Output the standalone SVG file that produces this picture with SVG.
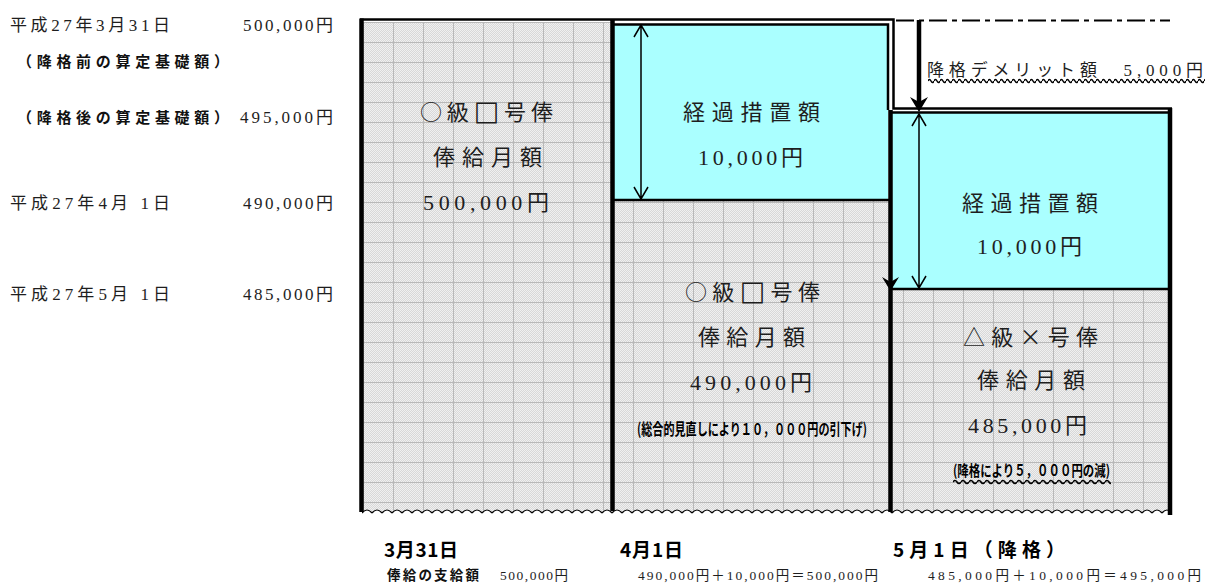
<svg xmlns="http://www.w3.org/2000/svg" width="1205" height="585" viewBox="0 0 1205 585">
<style>
.m{font-family:'Liberation Serif','Noto Sans CJK JP',serif;fill:#1e1e1e}
.g{font-family:'Noto Sans CJK JP',sans-serif;fill:#111}
.b{font-family:'Noto Sans CJK JP',sans-serif;font-weight:700;fill:#000}
.j{font-family:'Noto Sans CJK JP',sans-serif;fill:#1e1e1e}
.sq{font-family:'DejaVu Sans',sans-serif;font-size:27px;fill:#1e1e1e}
.big{font-size:22px}
.lab{font-size:17px}
.sm{font-size:13.5px}
.thick{stroke:#000;stroke-width:4.5;fill:none}
.med{stroke:#000;stroke-width:2.5;fill:none}
.thin{stroke:#000;stroke-width:1.5;fill:none}
</style>
<defs>
<pattern id="dots" x="0" y="0" width="2" height="2" patternUnits="userSpaceOnUse">
<rect width="2" height="2" fill="#f0f0f0"/>
<rect width="1" height="1" fill="#d8d8d8"/>
<rect x="1" y="1" width="1" height="1" fill="#d8d8d8"/>
</pattern>
<pattern id="grid" x="363" y="22" width="30" height="20" patternUnits="userSpaceOnUse">
<rect width="30" height="20" fill="url(#dots)"/>
<path d="M0 0.5H30M0.5 0V20" stroke="#b8b8b8" stroke-width="1"/>
</pattern>
<pattern id="edge" x="362" y="505" width="10" height="14" patternUnits="userSpaceOnUse">
<path d="M0,8 Q5,2 10,8 V14 H0 Z" fill="#fff"/>
<path d="M0,8 Q5,2 10,8" fill="none" stroke="#000" stroke-width="1.2"/>
</pattern>
<pattern id="ul3" x="928" y="76" width="6" height="8" patternUnits="userSpaceOnUse">
<path d="M0,5 Q1.5,2 3,5 T6,5" fill="none" stroke="#000" stroke-width="1.5"/>
</pattern>
<pattern id="ul4" x="953" y="478" width="8" height="8" patternUnits="userSpaceOnUse">
<path d="M0,4 Q2,1 4,4 T8,4" fill="none" stroke="#000" stroke-width="1.6"/>
</pattern>
</defs>
<rect width="1205" height="585" fill="#fff"/>

<g id="left-labels">
<text class="m lab" x="10" y="31" textLength="160" lengthAdjust="spacing">平成27年3月31日</text>
<text class="m lab" x="243" y="31" textLength="90" lengthAdjust="spacing">500,000円</text>
<text class="g" font-size="15" font-weight="700" x="17" y="67" textLength="212" lengthAdjust="spacing">（降格前の算定基礎額）</text>
<text class="g" font-size="15" font-weight="700" x="17" y="123" textLength="212" lengthAdjust="spacing">（降格後の算定基礎額）</text>
<text class="m lab" x="240" y="123" textLength="93" lengthAdjust="spacing">495,000円</text>
<text class="m lab" x="10" y="209" textLength="160" lengthAdjust="spacing">平成27年4月 1日</text>
<text class="m lab" x="243" y="209" textLength="90" lengthAdjust="spacing">490,000円</text>
<text class="m lab" x="10" y="300" textLength="160" lengthAdjust="spacing">平成27年5月 1日</text>
<text class="m lab" x="243" y="300" textLength="90" lengthAdjust="spacing">485,000円</text>
</g>

<g id="grey-base">
<path fill="url(#grid)" d="M362,22 H612 V200 H890 V289 H1170 V516 H362 Z"/>
<rect x="362" y="505" width="810" height="14" fill="url(#edge)"/>
</g>

<g id="col1">
<text class="m big" x="420" y="120" textLength="133" lengthAdjust="spacing"><tspan class="j">○</tspan>級<tspan class="sq">□</tspan>号俸</text>
<text class="m big" x="433" y="165" textLength="109" lengthAdjust="spacing">俸給月額</text>
<text class="m big" x="423" y="210" textLength="126" lengthAdjust="spacing">500,000円</text>
</g>

<g id="col2-transition">
<rect x="613" y="24" width="275" height="176" fill="#aaffff"/>
<text class="m big" x="683" y="120" textLength="137" lengthAdjust="spacing">経過措置額</text>
<text class="m big" x="698" y="165" textLength="105" lengthAdjust="spacing">10,000円</text>
</g>

<g id="col2-salary">
<text class="m big" x="685" y="300" textLength="135" lengthAdjust="spacing"><tspan class="j">○</tspan>級<tspan class="sq">□</tspan>号俸</text>
<text class="m big" x="698" y="345" textLength="107" lengthAdjust="spacing">俸給月額</text>
<text class="m big" x="690" y="390" textLength="122" lengthAdjust="spacing">490,000円</text>
<text class="b" font-size="16" x="637" y="435" textLength="230" lengthAdjust="spacingAndGlyphs">(総合的見直しにより１０，０００円の引下げ)</text>
</g>

<g id="col3-transition">
<rect x="892" y="113" width="277" height="176" fill="#aaffff"/>
<text class="m big" x="962" y="211" textLength="136" lengthAdjust="spacing">経過措置額</text>
<text class="m big" x="977" y="254" textLength="105" lengthAdjust="spacing">10,000円</text>
</g>

<g id="col3-salary">
<text class="m big" x="963" y="345" textLength="135" lengthAdjust="spacing"><tspan class="j">△</tspan>級<tspan class="j">×</tspan>号俸</text>
<text class="m big" x="977" y="388" textLength="108" lengthAdjust="spacing">俸給月額</text>
<text class="m big" x="968" y="433" textLength="119" lengthAdjust="spacing">485,000円</text>
<text class="b" font-size="15" x="953" y="476" textLength="157" lengthAdjust="spacingAndGlyphs">(降格により５，０００円の減)</text>
<rect x="953" y="478" width="158" height="8" fill="url(#ul4)"/>
</g>

<g id="demerit">
<text class="m" font-size="17" x="927" y="76" textLength="276" lengthAdjust="spacing">降格デメリット額　5,000円</text>
<rect x="928" y="76" width="277" height="8" fill="url(#ul3)"/>
</g>

<g id="frame">
<path class="med" d="M360,19.5 H893.5 V108.5 H1172"/>
<path class="med" d="M613,24.5 H888 V110"/>
<path class="med" d="M892,112.5 H1170"/>
<path class="med" d="M613,200 H890"/>
<path class="med" d="M892,289 H1170"/>
<path class="thick" d="M361.5,18.5 V512"/>
<path class="thick" d="M612.5,19 V511"/>
<path class="thick" d="M890.5,110 V512"/>
<path class="thick" d="M1170,108 V515"/>
<path stroke="#000" stroke-width="2" stroke-dasharray="18 5 5 5" fill="none" d="M896,20.5 H1170"/>
</g>

<g id="connectors">
<path class="thin" d="M641,25 V199 M634,37 L641,25 L648,37 M634,187 L641,199 L648,187"/>
<path class="thin" d="M919,114 V288 M912,126 L919,114 L926,126 M912,276 L919,288 L926,276"/>
<path class="thick" d="M919,20 V104"/>
<path fill="#000" d="M910,97 L919,102 L928,97 L919,112 Z"/>
<path fill="#000" d="M882,277 L890.5,282 L899,277 L890.5,291 Z"/>
</g>

<g id="bottom-labels">
<text class="b" font-size="19" x="384" y="557" textLength="74" lengthAdjust="spacing">3月31日</text>
<text class="b" font-size="19" x="620" y="557" textLength="63" lengthAdjust="spacing">4月1日</text>
<text class="b" font-size="19" x="893" y="557" textLength="172" lengthAdjust="spacing">5月1日（降格）</text>
<text class="g" font-size="13.5" font-weight="700" x="387" y="580" textLength="92" lengthAdjust="spacing">俸給の支給額</text>
<text class="m sm" x="500" y="580" textLength="68" lengthAdjust="spacing">500,000円</text>
<text class="m sm" x="638" y="580" textLength="240" lengthAdjust="spacing">490,000円＋10,000円＝500,000円</text>
<text class="m sm" x="928" y="580" textLength="273" lengthAdjust="spacing">485,000円＋10,000円＝495,000円</text>
</g>
</svg>
